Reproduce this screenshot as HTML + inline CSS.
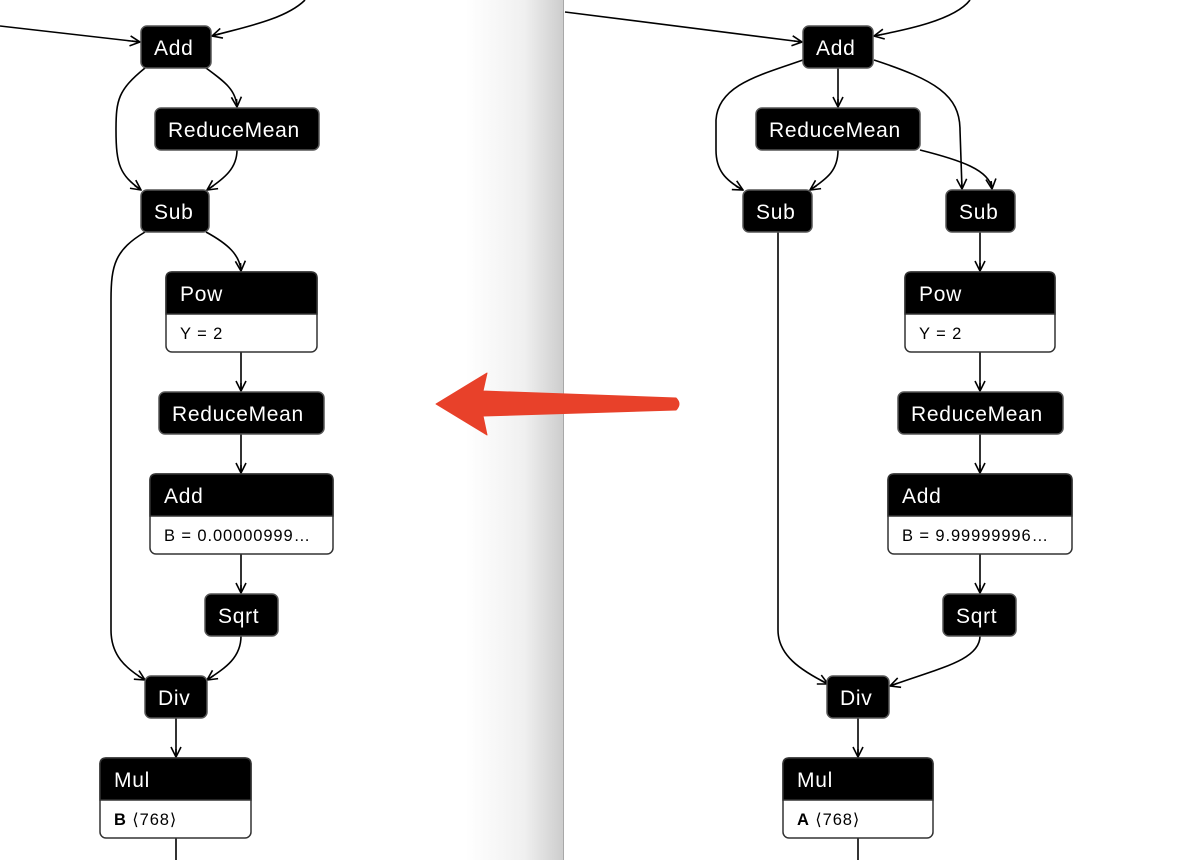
<!DOCTYPE html>
<html><head><meta charset="utf-8"><style>
html,body{margin:0;padding:0;background:#fff;}
svg{display:block;}
text{font-family:"Liberation Sans","DejaVu Sans",sans-serif;}
.h{fill:#fff;font-size:21px;letter-spacing:0.7px;}
.a{fill:#000;font-size:16.5px;letter-spacing:0.9px;}
.e{fill:none;stroke:#000;stroke-width:1.6;}
</style></head><body>
<svg width="1180" height="860" viewBox="0 0 1180 860" xmlns="http://www.w3.org/2000/svg">
<defs>
<marker id="m" viewBox="0 0 12 12" refX="11" refY="6" markerWidth="12" markerHeight="12" markerUnits="userSpaceOnUse" orient="auto">
<path d="M1,1 L11,6 L1,11 M11,6 L3,6" fill="none" stroke="#000" stroke-width="1.6"/>
</marker>
<linearGradient id="g" x1="0" x2="1" y1="0" y2="0">
<stop offset="0" stop-color="#fff"/><stop offset="0.6" stop-color="#f0f0f0"/><stop offset="1" stop-color="#cdcdcd"/>
</linearGradient>
</defs>
<rect x="0" y="0" width="1180" height="860" fill="#fff"/>
<rect x="466" y="0" width="97" height="860" fill="url(#g)"/>
<line x1="563.5" y1="0" x2="563.5" y2="860" stroke="#a8a8a8" stroke-width="1"/>

<!-- LEFT edges -->
<path class="e" d="M0,26 L140,42" marker-end="url(#m)"/>
<path class="e" d="M305,0 C285,20 240,28 212,36" marker-end="url(#m)"/>
<path class="e" d="M145,68 C118,90 116,100 116,130 C116,165 120,175 141,190" marker-end="url(#m)"/>
<path class="e" d="M206,68 C225,82 236,90 237,107" marker-end="url(#m)"/>
<path class="e" d="M237,150 C237,168 225,178 207,190" marker-end="url(#m)"/>
<path class="e" d="M145,232 C115,250 111,265 111,300 L111,630 C111,655 125,668 145,680" marker-end="url(#m)"/>
<path class="e" d="M206,232 C228,244 240,255 241,271" marker-end="url(#m)"/>
<path class="e" d="M241,352 L241,391" marker-end="url(#m)"/>
<path class="e" d="M241,434 L241,473" marker-end="url(#m)"/>
<path class="e" d="M241,554 L241,593" marker-end="url(#m)"/>
<path class="e" d="M241,636 C241,658 225,668 207,680" marker-end="url(#m)"/>
<path class="e" d="M176,718 L176,757" marker-end="url(#m)"/>
<path class="e" d="M176,838 L176,860"/>

<!-- RIGHT edges -->
<path class="e" d="M565,12 L802,42" marker-end="url(#m)"/>
<path class="e" d="M970,0 C955,20 905,30 874,36" marker-end="url(#m)"/>
<path class="e" d="M803,60 C760,75 718,85 716,120 L716,150 C716,170 725,180 743,190" marker-end="url(#m)"/>
<path class="e" d="M838,68 L838,107" marker-end="url(#m)"/>
<path class="e" d="M838,150 C838,170 828,178 810,190" marker-end="url(#m)"/>
<path class="e" d="M874,60 C935,80 960,95 960,130 L962,189" marker-end="url(#m)"/>
<path class="e" d="M920,150 C960,160 990,170 992,189" marker-end="url(#m)"/>
<path class="e" d="M778,232 L778,630 C778,655 800,670 828,684" marker-end="url(#m)"/>
<path class="e" d="M980,232 L980,271" marker-end="url(#m)"/>
<path class="e" d="M980,352 L980,391" marker-end="url(#m)"/>
<path class="e" d="M980,434 L980,473" marker-end="url(#m)"/>
<path class="e" d="M980,554 L980,593" marker-end="url(#m)"/>
<path class="e" d="M980,636 C980,660 940,668 890,686" marker-end="url(#m)"/>
<path class="e" d="M858,718 L858,757" marker-end="url(#m)"/>
<path class="e" d="M858,838 L858,860"/>

<!-- LEFT nodes -->
<g stroke="#555" stroke-width="1.5">
<rect x="141" y="26" width="70" height="42" rx="6" fill="#000"/>
<rect x="155" y="108" width="164" height="42" rx="6" fill="#000"/>
<rect x="141" y="190" width="68" height="42" rx="6" fill="#000"/>
<rect x="166" y="272" width="151" height="80" rx="6" fill="#fff" stroke="#333"/>
<path d="M166,314 L166,278 Q166,272 172,272 L311,272 Q317,272 317,278 L317,314 Z" fill="#000" stroke="#333"/>
<rect x="159" y="392" width="165" height="42" rx="6" fill="#000"/>
<rect x="150" y="474" width="183" height="80" rx="6" fill="#fff" stroke="#333"/>
<path d="M150,516 L150,480 Q150,474 156,474 L327,474 Q333,474 333,480 L333,516 Z" fill="#000" stroke="#333"/>
<rect x="205" y="594" width="73" height="42" rx="6" fill="#000"/>
<rect x="145" y="676" width="62" height="42" rx="6" fill="#000"/>
<rect x="100" y="758" width="151" height="80" rx="6" fill="#fff" stroke="#333"/>
<path d="M100,800 L100,764 Q100,758 106,758 L245,758 Q251,758 251,764 L251,800 Z" fill="#000" stroke="#333"/>
</g>
<text class="h" x="154" y="55">Add</text>
<text class="h" x="168" y="137">ReduceMean</text>
<text class="h" x="154" y="219">Sub</text>
<text class="h" x="180" y="301">Pow</text>
<text class="a" x="180" y="339">Y = 2</text>
<text class="h" x="172" y="421">ReduceMean</text>
<text class="h" x="164" y="503">Add</text>
<text class="a" x="164" y="541">B = 0.00000999…</text>
<text class="h" x="218" y="623">Sqrt</text>
<text class="h" x="158" y="705">Div</text>
<text class="h" x="114" y="787">Mul</text>
<text class="a" x="114" y="825"><tspan font-weight="bold">B</tspan> ⟨768⟩</text>

<!-- RIGHT nodes -->
<g stroke="#555" stroke-width="1.5">
<rect x="803" y="26" width="70" height="42" rx="6" fill="#000"/>
<rect x="756" y="108" width="164" height="42" rx="6" fill="#000"/>
<rect x="743" y="190" width="69" height="42" rx="6" fill="#000"/>
<rect x="946" y="190" width="69" height="42" rx="6" fill="#000"/>
<rect x="905" y="272" width="150" height="80" rx="6" fill="#fff" stroke="#333"/>
<path d="M905,314 L905,278 Q905,272 911,272 L1049,272 Q1055,272 1055,278 L1055,314 Z" fill="#000" stroke="#333"/>
<rect x="898" y="392" width="165" height="42" rx="6" fill="#000"/>
<rect x="888" y="474" width="184" height="80" rx="6" fill="#fff" stroke="#333"/>
<path d="M888,516 L888,480 Q888,474 894,474 L1066,474 Q1072,474 1072,480 L1072,516 Z" fill="#000" stroke="#333"/>
<rect x="943" y="594" width="73" height="42" rx="6" fill="#000"/>
<rect x="827" y="676" width="62" height="42" rx="6" fill="#000"/>
<rect x="783" y="758" width="150" height="80" rx="6" fill="#fff" stroke="#333"/>
<path d="M783,800 L783,764 Q783,758 789,758 L927,758 Q933,758 933,764 L933,800 Z" fill="#000" stroke="#333"/>
</g>
<text class="h" x="816" y="55">Add</text>
<text class="h" x="769" y="137">ReduceMean</text>
<text class="h" x="756" y="219">Sub</text>
<text class="h" x="959" y="219">Sub</text>
<text class="h" x="919" y="301">Pow</text>
<text class="a" x="919" y="339">Y = 2</text>
<text class="h" x="911" y="421">ReduceMean</text>
<text class="h" x="902" y="503">Add</text>
<text class="a" x="902" y="541">B = 9.99999996…</text>
<text class="h" x="956" y="623">Sqrt</text>
<text class="h" x="840" y="705">Div</text>
<text class="h" x="797" y="787">Mul</text>
<text class="a" x="797" y="825"><tspan font-weight="bold">A</tspan> ⟨768⟩</text>

<!-- red arrow -->
<path d="M676,398 Q682,404 676,410 L483,416 L487,435 L436,404 L487,373 L483,391 Z" fill="#e8412a" stroke="#e8412a" stroke-width="1" stroke-linejoin="round"/>
</svg>
</body></html>
